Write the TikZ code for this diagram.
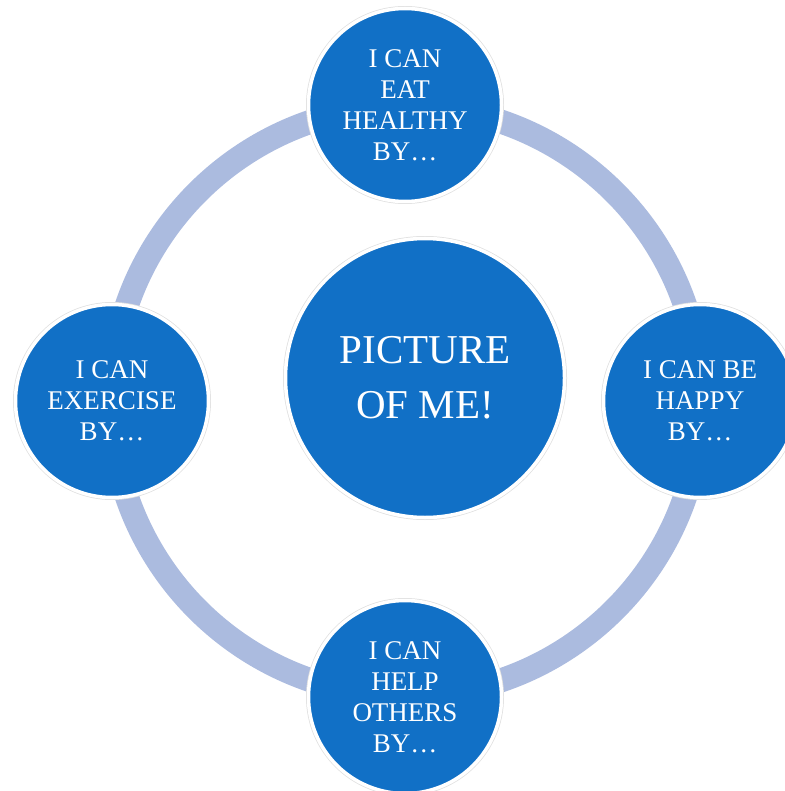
\documentclass[tikz,border=0pt]{standalone}
\usepackage{fontspec}
\setmainfont{Liberation Serif}

\definecolor{goalblue}{RGB}{17,112,198}
\definecolor{ringblue}{RGB}{171,187,223}

\begin{document}
\begin{tikzpicture}[x=1pt, y=-1pt,
    goal/.style={circle, fill=goalblue, draw=white, line width=3.5pt,
        preaction={draw=black!12, line width=5pt},
        minimum size=193pt, inner sep=0pt, align=center, text=white,
        font=\fontsize{27}{31}\selectfont},
    me/.style={goal, minimum size=279pt, font=\fontsize{41}{55}\selectfont}]
    \useasboundingbox (0, 0) rectangle (784, 791);

    % Ring behind the circles
    \coordinate (hub) at (406, 401);
    \draw[ringblue, line width=24pt] (hub) circle[radius=295pt];

    % Middle
    \node[me] (me) at (425, 378) {PICTURE\\OF ME!};

    % Goals around the ring
    \node[goal] (eat) at (405, 105) {I CAN\\EAT\\HEALTHY\\BY\ldots};
    \node[goal] (happy) at (700, 401) {I CAN BE\\HAPPY\\BY\ldots};
    \node[goal] (help) at (405, 697) {I CAN\\HELP\\OTHERS\\BY\ldots};
    \node[goal] (exercise) at (112, 401) {I CAN\\EXERCISE\\BY\ldots};
\end{tikzpicture}
\end{document}
